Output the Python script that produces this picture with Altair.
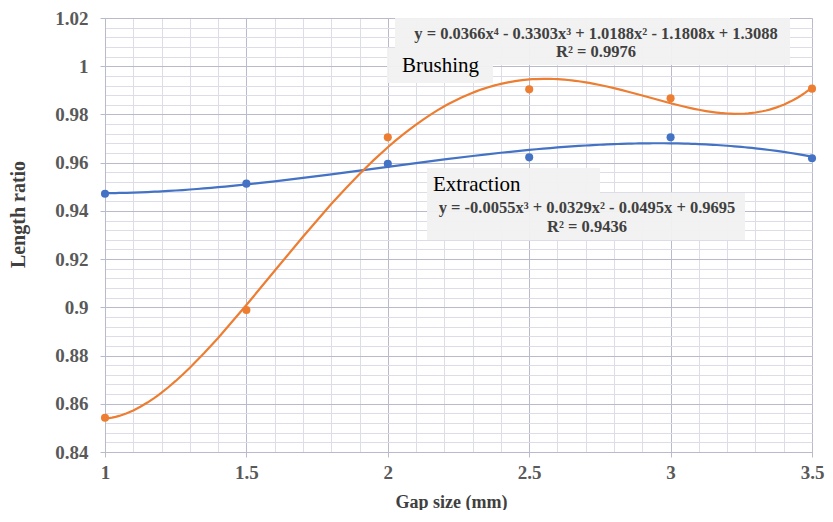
import altair as alt
import pandas as pd

# ---- data ----
gap_size = [1.0, 1.5, 2.0, 2.5, 3.0, 3.5]
brushing = [0.8542, 0.8989, 0.9705, 0.9904, 0.9867, 0.9907]
extraction = [0.9471, 0.9513, 0.9595, 0.9622, 0.9705, 0.9618]

x_major = [1.0, 1.5, 2.0, 2.5, 3.0, 3.5]
y_major = [0.84, 0.86, 0.88, 0.90, 0.92, 0.94, 0.96, 0.98, 1.0, 1.02]
x_minor = [round(1.0 + 0.1 * i, 2) for i in range(26)]
y_minor = [round(0.84 + 0.004 * i, 3) for i in range(46)]

brush_eq = "y = 0.0366x\u2074 - 0.3303x\u00b3 + 1.0188x\u00b2 - 1.1808x + 1.3088"
brush_r2 = "R\u00b2 = 0.9976"
extr_eq = "y = -0.0055x\u00b3 + 0.0329x\u00b2 - 0.0495x + 0.9695"
extr_r2 = "R\u00b2 = 0.9436"

df = pd.DataFrame({
    "x": gap_size * 2,
    "y": brushing + extraction,
    "series": ["Brushing"] * 6 + ["Extraction"] * 6,
})
df_b = df[df.series == "Brushing"]
df_e = df[df.series == "Extraction"]

ORANGE = "#ED7D31"
BLUE = "#4472C4"
FONT = "Liberation Serif"

xs = alt.Scale(domain=[1, 3.5], nice=False, zero=False)
ys = alt.Scale(domain=[0.84, 1.02], nice=False, zero=False)

base = alt.Chart(df)

minor = base.mark_point(opacity=0).encode(
    x=alt.X("x:Q", scale=xs, axis=alt.Axis(orient="bottom", values=x_minor, grid=True,
            gridColor="#dcdde6", gridWidth=1, labels=False, ticks=False, domain=False, title=None)),
    y=alt.Y("y:Q", scale=ys, axis=alt.Axis(orient="left", values=y_minor, grid=True,
            gridColor="#dcdde6", gridWidth=1, labels=False, ticks=False, domain=False, title=None)),
)

major = base.mark_point(opacity=0).encode(
    x=alt.X("x:Q", scale=xs, axis=alt.Axis(
        orient="bottom", values=x_major, grid=True, gridColor="#b9bacb", gridWidth=1,
        domain=True, domainColor="#b9bacb", ticks=True, tickColor="#b9bacb", tickSize=5,
        labelFont=FONT, labelFontSize=19, labelFontWeight="bold", labelColor="#595959",
        labelPadding=6, labelFlush=False, labelExpr="format(datum.value, '~g')",
        title="Gap size (mm)", titleFont=FONT, titleFontSize=18, titleFontWeight="bold",
        titleColor="#404040", titleX=346, titleY=50, titleBaseline="middle",
        titleAlign="center")),
    y=alt.Y("y:Q", scale=ys, axis=alt.Axis(
        orient="left", values=y_major, grid=True, gridColor="#b9bacb", gridWidth=1,
        domain=True, domainColor="#b9bacb", ticks=True, tickColor="#b9bacb", tickSize=5,
        labelFont=FONT, labelFontSize=19, labelFontWeight="bold", labelColor="#595959",
        labelPadding=12, labelFlush=False, labelExpr="format(datum.value, '~g')",
        title="Length ratio", titleFont=FONT, titleFontSize=20, titleFontWeight="bold",
        titleColor="#404040", titleX=-87, titleY=196, titleBaseline="middle",
        titleAlign="center", titleAngle=270)),
)

def fit(d, order, color):
    return alt.Chart(d).transform_regression(
        "x", "y", method="poly", order=order
    ).mark_line(color=color, strokeWidth=2.2).encode(
        x=alt.X("x:Q", scale=xs, axis=None),
        y=alt.Y("y:Q", scale=ys, axis=None),
    )

def pts(d, color):
    return alt.Chart(d).mark_circle(color=color, size=65, opacity=1).encode(
        x=alt.X("x:Q", scale=xs, axis=None),
        y=alt.Y("y:Q", scale=ys, axis=None),
    )

BOX = "#f1f1f1"
one = pd.DataFrame({"a": [0]})

def box(x1, x2, y1, y2):
    return alt.Chart(one).mark_rect(color=BOX, opacity=0.95).encode(
        x=alt.value(x1), x2=alt.value(x2), y=alt.value(y1), y2=alt.value(y2))

def txt(s, x, y, size, weight, align, color="#262626"):
    return alt.Chart(one).mark_text(
        text=s, font=FONT, fontSize=size, fontWeight=weight, align=align,
        baseline="middle", color=color).encode(x=alt.value(x), y=alt.value(y))

annotations = [
    box(290, 685, 0, 47),
    box(282, 388, 30, 65),
    box(322, 495, 150, 175),
    box(322, 640, 175, 222),
    txt(brush_eq, 491, 16, 16.5, "bold", "center", "#404040"),
    txt(brush_r2, 491, 34, 16.5, "bold", "center", "#404040"),
    txt("Brushing", 297, 48, 21, "normal", "left", "#000000"),
    txt("Extraction", 328, 167, 21, "normal", "left", "#000000"),
    txt(extr_eq, 482, 190, 16.5, "bold", "center", "#404040"),
    txt(extr_r2, 482, 209, 16.5, "bold", "center", "#404040"),
]

chart = alt.layer(
    minor, major,
    fit(df_e, 3, BLUE), fit(df_b, 4, ORANGE),
    pts(df_e, BLUE), pts(df_b, ORANGE),
    *annotations,
).resolve_axis(x="independent", y="independent").properties(
    width=707, height=434,
    autosize=alt.AutoSizeParams(type="none"),
    padding={"left": 97, "top": 10, "right": 13, "bottom": 58},
).configure_view(stroke=None).configure(background="white")

chart.save("out.html", embed_options={"renderer": "svg", "actions": False})
